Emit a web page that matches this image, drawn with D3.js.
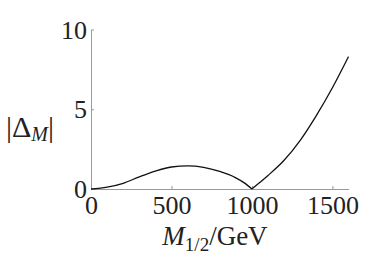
<!DOCTYPE html>
<html>
<head>
<meta charset="utf-8">
<script src="https://cdn.jsdelivr.net/npm/d3@7"></script>
<style>
  body { margin: 0; background: #fff; }
</style>
</head>
<body>
<div id="chart"></div>
<script>
// curve
const mass = [0, 100, 200, 300, 400, 500, 600, 700, 800, 900, 950, 1000, 1050, 1100, 1200, 1300, 1400, 1500, 1600];
const delta = [0, 0.12, 0.36, 0.76, 1.12, 1.38, 1.45, 1.36, 1.1, 0.7, 0.4, 0, 0.42, 0.85, 1.8, 3.05, 4.6, 6.35, 8.3];
const xTicks = [0, 500, 1000, 1500];
const yTicks = [0, 5, 10];

const width = 374, height = 260;
const x0 = 91, x1 = 348.5, yBottom = 189, yTop = 29.5;
const serif = "Liberation Serif";

const svg = d3.select("#chart").append("svg")
  .attr("width", width)
  .attr("height", height)
  .attr("font-family", serif);

const xScale = d3.scaleLinear().domain([0, 1600]).range([x0, x1]);
const yScale = d3.scaleLinear().domain([0, 10]).range([yBottom, yTop]);

// axes, ticks point inward
const xAxis = svg.append("g")
  .attr("transform", `translate(0, ${yBottom})`)
  .call(d3.axisBottom(xScale).tickValues(xTicks).tickFormat(d3.format("d"))
    .tickSize(-3).tickSizeOuter(0).tickPadding(7));

const yAxis = svg.append("g")
  .attr("transform", `translate(${x0}, 0)`)
  .call(d3.axisLeft(yScale).tickValues(yTicks).tickFormat(d3.format("d"))
    .tickSize(-3).tickSizeOuter(0).tickPadding(4));

[xAxis, yAxis].forEach(g => {
  g.attr("font-family", serif).attr("font-size", 26);
  g.select(".domain").attr("stroke", "#999").attr("stroke-width", 1);
  g.selectAll(".tick line").attr("stroke", "#999");
  g.selectAll(".tick text").attr("fill", "#222");
});
xAxis.selectAll(".tick text").attr("dy", "0.71em");
yAxis.selectAll(".tick text").attr("dy", "0.33em");

// curve: |Delta| has a kink at the zero, so draw both sides separately
const pts = mass.map((m, i) => [m, delta[i]]);
const iZero = delta.indexOf(0, 1);

const line = d3.line()
  .x(d => xScale(d[0]))
  .y(d => yScale(d[1]))
  .curve(d3.curveMonotoneX);

[pts.slice(0, iZero + 1), pts.slice(iZero)].forEach(seg => {
  svg.append("path")
    .datum(seg)
    .attr("fill", "none")
    .attr("stroke", "#111")
    .attr("stroke-width", 1.3)
    .attr("stroke-linejoin", "round")
    .attr("d", line);
});

// x label
const xl = svg.append("text")
  .attr("x", 215)
  .attr("y", 245)
  .attr("text-anchor", "middle")
  .attr("font-family", serif)
  .attr("font-size", 27)
  .attr("fill", "#222");
xl.append("tspan").attr("font-style", "italic").text("M");
xl.append("tspan").attr("font-size", 19).attr("dy", 6).text("1/2");
xl.append("tspan").attr("dy", -6).text("/GeV");

// y label
const yl = svg.append("text")
  .attr("x", 30)
  .attr("y", 137)
  .attr("text-anchor", "middle")
  .attr("font-family", serif)
  .attr("font-size", 30)
  .attr("fill", "#222");
yl.append("tspan").text("|Δ");
yl.append("tspan").attr("font-style", "italic").attr("font-size", 20).attr("dy", 4).text("M");
yl.append("tspan").attr("dy", -4).text("|");
</script>
</body>
</html>
